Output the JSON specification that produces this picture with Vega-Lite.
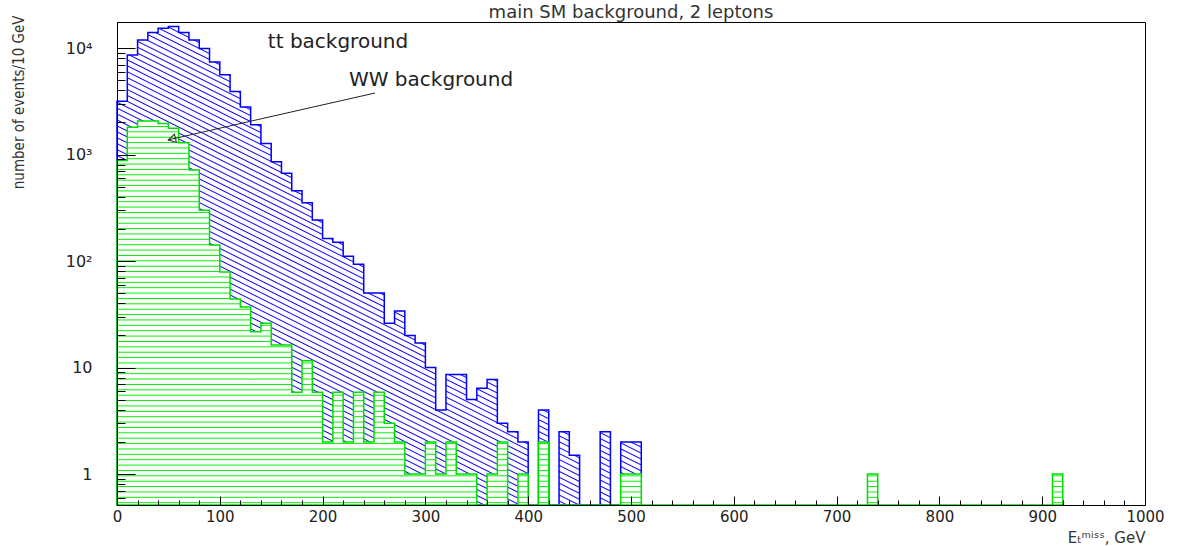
{
"$schema":"https://vega.github.io/schema/vega-lite/v6.json",
"width":1028,"height":483,
"autosize":{"type":"none"},
"padding":{"left":117,"top":22,"right":41,"bottom":41},
"background":"white",
"title":{"text":"main SM background, 2 leptons","fontSize":18,"font":"DejaVu Sans","fontWeight":"normal","color":"#333","anchor":"middle","frame":"group","offset":4,"dy":11},
"config":{"view":{"stroke":"#000","strokeWidth":1},"axis":{"domainColor":"#000","tickColor":"#000","labelFont":"DejaVu Sans","labelColor":"#222","titleFont":"DejaVu Sans","grid":false}},
"resolve":{"axis":{"x":"independent","y":"independent"}},
"datasets":{
"tt":[{"e":0,"n":3170},{"e":10,"n":8600},{"e":20,"n":11900},{"e":30,"n":14000},{"e":40,"n":15300},{"e":50,"n":15900},{"e":60,"n":14000},{"e":70,"n":11900},{"e":80,"n":9900},{"e":90,"n":7400},{"e":100,"n":5600},{"e":110,"n":3900},{"e":120,"n":2800},{"e":130,"n":1900},{"e":140,"n":1270},{"e":150,"n":857},{"e":160,"n":666},{"e":170,"n":457},{"e":180,"n":353},{"e":190,"n":243},{"e":200,"n":163},{"e":210,"n":150},{"e":220,"n":111},{"e":230,"n":93},{"e":240,"n":50},{"e":250,"n":50},{"e":260,"n":26},{"e":270,"n":34},{"e":280,"n":20},{"e":290,"n":17},{"e":300,"n":10},{"e":310,"n":4},{"e":320,"n":8.6},{"e":330,"n":8.6},{"e":340,"n":5},{"e":350,"n":6.4},{"e":360,"n":7.7},{"e":370,"n":3},{"e":380,"n":2.5},{"e":390,"n":2},{"e":400,"n":0},{"e":410,"n":4},{"e":420,"n":0},{"e":430,"n":2.5},{"e":440,"n":1.5},{"e":450,"n":0},{"e":470,"n":2.5},{"e":480,"n":0},{"e":490,"n":2},{"e":500,"n":2},{"e":510,"n":0}],
"ww":[{"e":0,"n":880},{"e":10,"n":1800},{"e":20,"n":2060},{"e":30,"n":2060},{"e":40,"n":1960},{"e":50,"n":1760},{"e":60,"n":1290},{"e":70,"n":715},{"e":80,"n":300},{"e":90,"n":141},{"e":100,"n":79},{"e":110,"n":44},{"e":120,"n":37},{"e":130,"n":21.7},{"e":140,"n":26},{"e":150,"n":16.3},{"e":160,"n":16.3},{"e":170,"n":5.85},{"e":180,"n":11.6},{"e":190,"n":5.85},{"e":200,"n":2},{"e":210,"n":5.85},{"e":220,"n":2},{"e":230,"n":5.85},{"e":240,"n":2},{"e":250,"n":5.85},{"e":260,"n":3},{"e":270,"n":2},{"e":280,"n":1},{"e":290,"n":1},{"e":300,"n":2},{"e":310,"n":1},{"e":320,"n":2},{"e":330,"n":1},{"e":340,"n":1},{"e":350,"n":0},{"e":360,"n":1},{"e":370,"n":2},{"e":380,"n":0},{"e":390,"n":1},{"e":400,"n":0},{"e":410,"n":2},{"e":420,"n":0},{"e":490,"n":1},{"e":500,"n":1},{"e":510,"n":0},{"e":730,"n":1},{"e":740,"n":0},{"e":910,"n":1},{"e":920,"n":0}],
"notes":[{"e":215,"n":11400,"label":"tt background"},{"e":305.5,"n":5000,"label":"WW background"}],
"arrow":[{"e":251,"n":3780,"e2":49.6,"n2":1370}],
"head":[{"e":53.4,"n":1395}]
},
"layer":[
{"data":{"name":"tt"},
"mark":{"type":"area","interpolate":"step-after","stroke":"#0000ff","strokeWidth":1.5,"fillOpacity":1,
"fill":{"gradient":"linear","x1":1,"y1":0,"x2":0.3477,"y2":1.1906,"stops":[{"offset":0,"color":"#fff"},
{"offset":0.0065,"color":"#fff"},{"offset":0.008,"color":"#10f"},{"offset":0.0095,"color":"#fff"},
{"offset":0.0145,"color":"#fff"},{"offset":0.016,"color":"#10f"},{"offset":0.0175,"color":"#fff"},
{"offset":0.0225,"color":"#fff"},{"offset":0.024,"color":"#10f"},{"offset":0.0255,"color":"#fff"},
{"offset":0.0305,"color":"#fff"},{"offset":0.032,"color":"#10f"},{"offset":0.0335,"color":"#fff"},
{"offset":0.0385,"color":"#fff"},{"offset":0.04,"color":"#10f"},{"offset":0.0415,"color":"#fff"},
{"offset":0.0465,"color":"#fff"},{"offset":0.048,"color":"#10f"},{"offset":0.0495,"color":"#fff"},
{"offset":0.0545,"color":"#fff"},{"offset":0.056,"color":"#10f"},{"offset":0.0575,"color":"#fff"},
{"offset":0.0625,"color":"#fff"},{"offset":0.064,"color":"#10f"},{"offset":0.0655,"color":"#fff"},
{"offset":0.0705,"color":"#fff"},{"offset":0.072,"color":"#10f"},{"offset":0.0735,"color":"#fff"},
{"offset":0.0785,"color":"#fff"},{"offset":0.08,"color":"#10f"},{"offset":0.0815,"color":"#fff"},
{"offset":0.0865,"color":"#fff"},{"offset":0.088,"color":"#10f"},{"offset":0.0895,"color":"#fff"},
{"offset":0.0945,"color":"#fff"},{"offset":0.096,"color":"#10f"},{"offset":0.0975,"color":"#fff"},
{"offset":0.1025,"color":"#fff"},{"offset":0.104,"color":"#10f"},{"offset":0.1055,"color":"#fff"},
{"offset":0.1105,"color":"#fff"},{"offset":0.112,"color":"#10f"},{"offset":0.1135,"color":"#fff"},
{"offset":0.1185,"color":"#fff"},{"offset":0.12,"color":"#10f"},{"offset":0.1215,"color":"#fff"},
{"offset":0.1265,"color":"#fff"},{"offset":0.128,"color":"#10f"},{"offset":0.1295,"color":"#fff"},
{"offset":0.1345,"color":"#fff"},{"offset":0.136,"color":"#10f"},{"offset":0.1375,"color":"#fff"},
{"offset":0.1425,"color":"#fff"},{"offset":0.144,"color":"#10f"},{"offset":0.1455,"color":"#fff"},
{"offset":0.1505,"color":"#fff"},{"offset":0.152,"color":"#10f"},{"offset":0.1535,"color":"#fff"},
{"offset":0.1585,"color":"#fff"},{"offset":0.16,"color":"#10f"},{"offset":0.1615,"color":"#fff"},
{"offset":0.1665,"color":"#fff"},{"offset":0.168,"color":"#10f"},{"offset":0.1695,"color":"#fff"},
{"offset":0.1745,"color":"#fff"},{"offset":0.176,"color":"#10f"},{"offset":0.1775,"color":"#fff"},
{"offset":0.1825,"color":"#fff"},{"offset":0.184,"color":"#10f"},{"offset":0.1855,"color":"#fff"},
{"offset":0.1905,"color":"#fff"},{"offset":0.192,"color":"#10f"},{"offset":0.1935,"color":"#fff"},
{"offset":0.1985,"color":"#fff"},{"offset":0.2,"color":"#10f"},{"offset":0.2015,"color":"#fff"},
{"offset":0.2065,"color":"#fff"},{"offset":0.208,"color":"#10f"},{"offset":0.2095,"color":"#fff"},
{"offset":0.2145,"color":"#fff"},{"offset":0.216,"color":"#10f"},{"offset":0.2175,"color":"#fff"},
{"offset":0.2225,"color":"#fff"},{"offset":0.224,"color":"#10f"},{"offset":0.2255,"color":"#fff"},
{"offset":0.2305,"color":"#fff"},{"offset":0.232,"color":"#10f"},{"offset":0.2335,"color":"#fff"},
{"offset":0.2385,"color":"#fff"},{"offset":0.24,"color":"#10f"},{"offset":0.2415,"color":"#fff"},
{"offset":0.2465,"color":"#fff"},{"offset":0.248,"color":"#10f"},{"offset":0.2495,"color":"#fff"},
{"offset":0.2545,"color":"#fff"},{"offset":0.256,"color":"#10f"},{"offset":0.2575,"color":"#fff"},
{"offset":0.2625,"color":"#fff"},{"offset":0.264,"color":"#10f"},{"offset":0.2655,"color":"#fff"},
{"offset":0.2705,"color":"#fff"},{"offset":0.272,"color":"#10f"},{"offset":0.2735,"color":"#fff"},
{"offset":0.2785,"color":"#fff"},{"offset":0.28,"color":"#10f"},{"offset":0.2815,"color":"#fff"},
{"offset":0.2865,"color":"#fff"},{"offset":0.288,"color":"#10f"},{"offset":0.2895,"color":"#fff"},
{"offset":0.2945,"color":"#fff"},{"offset":0.296,"color":"#10f"},{"offset":0.2975,"color":"#fff"},
{"offset":0.3025,"color":"#fff"},{"offset":0.304,"color":"#10f"},{"offset":0.3055,"color":"#fff"},
{"offset":0.3105,"color":"#fff"},{"offset":0.312,"color":"#10f"},{"offset":0.3135,"color":"#fff"},
{"offset":0.3185,"color":"#fff"},{"offset":0.32,"color":"#10f"},{"offset":0.3215,"color":"#fff"},
{"offset":0.3265,"color":"#fff"},{"offset":0.328,"color":"#10f"},{"offset":0.3295,"color":"#fff"},
{"offset":0.3345,"color":"#fff"},{"offset":0.336,"color":"#10f"},{"offset":0.3375,"color":"#fff"},
{"offset":0.3425,"color":"#fff"},{"offset":0.344,"color":"#10f"},{"offset":0.3455,"color":"#fff"},
{"offset":0.3505,"color":"#fff"},{"offset":0.352,"color":"#10f"},{"offset":0.3535,"color":"#fff"},
{"offset":0.3585,"color":"#fff"},{"offset":0.36,"color":"#10f"},{"offset":0.3615,"color":"#fff"},
{"offset":0.3665,"color":"#fff"},{"offset":0.368,"color":"#10f"},{"offset":0.3695,"color":"#fff"},
{"offset":0.3745,"color":"#fff"},{"offset":0.376,"color":"#10f"},{"offset":0.3775,"color":"#fff"},
{"offset":0.3825,"color":"#fff"},{"offset":0.384,"color":"#10f"},{"offset":0.3855,"color":"#fff"},
{"offset":0.3905,"color":"#fff"},{"offset":0.392,"color":"#10f"},{"offset":0.3935,"color":"#fff"},
{"offset":0.3985,"color":"#fff"},{"offset":0.4,"color":"#10f"},{"offset":0.4015,"color":"#fff"},
{"offset":0.4065,"color":"#fff"},{"offset":0.408,"color":"#10f"},{"offset":0.4095,"color":"#fff"},
{"offset":0.4145,"color":"#fff"},{"offset":0.416,"color":"#10f"},{"offset":0.4175,"color":"#fff"},
{"offset":0.4225,"color":"#fff"},{"offset":0.424,"color":"#10f"},{"offset":0.4255,"color":"#fff"},
{"offset":0.4305,"color":"#fff"},{"offset":0.432,"color":"#10f"},{"offset":0.4335,"color":"#fff"},
{"offset":0.4385,"color":"#fff"},{"offset":0.44,"color":"#10f"},{"offset":0.4415,"color":"#fff"},
{"offset":0.4465,"color":"#fff"},{"offset":0.448,"color":"#10f"},{"offset":0.4495,"color":"#fff"},
{"offset":0.4545,"color":"#fff"},{"offset":0.456,"color":"#10f"},{"offset":0.4575,"color":"#fff"},
{"offset":0.4625,"color":"#fff"},{"offset":0.464,"color":"#10f"},{"offset":0.4655,"color":"#fff"},
{"offset":0.4705,"color":"#fff"},{"offset":0.472,"color":"#10f"},{"offset":0.4735,"color":"#fff"},
{"offset":0.4785,"color":"#fff"},{"offset":0.48,"color":"#10f"},{"offset":0.4815,"color":"#fff"},
{"offset":0.4865,"color":"#fff"},{"offset":0.488,"color":"#10f"},{"offset":0.4895,"color":"#fff"},
{"offset":0.4945,"color":"#fff"},{"offset":0.496,"color":"#10f"},{"offset":0.4975,"color":"#fff"},
{"offset":0.5025,"color":"#fff"},{"offset":0.504,"color":"#10f"},{"offset":0.5055,"color":"#fff"},
{"offset":0.5105,"color":"#fff"},{"offset":0.512,"color":"#10f"},{"offset":0.5135,"color":"#fff"},
{"offset":0.5185,"color":"#fff"},{"offset":0.52,"color":"#10f"},{"offset":0.5215,"color":"#fff"},
{"offset":0.5265,"color":"#fff"},{"offset":0.528,"color":"#10f"},{"offset":0.5295,"color":"#fff"},
{"offset":0.5345,"color":"#fff"},{"offset":0.536,"color":"#10f"},{"offset":0.5375,"color":"#fff"},
{"offset":0.5425,"color":"#fff"},{"offset":0.544,"color":"#10f"},{"offset":0.5455,"color":"#fff"},
{"offset":0.5505,"color":"#fff"},{"offset":0.552,"color":"#10f"},{"offset":0.5535,"color":"#fff"},
{"offset":0.5585,"color":"#fff"},{"offset":0.56,"color":"#10f"},{"offset":0.5615,"color":"#fff"},
{"offset":0.5665,"color":"#fff"},{"offset":0.568,"color":"#10f"},{"offset":0.5695,"color":"#fff"},
{"offset":0.5745,"color":"#fff"},{"offset":0.576,"color":"#10f"},{"offset":0.5775,"color":"#fff"},
{"offset":0.5825,"color":"#fff"},{"offset":0.584,"color":"#10f"},{"offset":0.5855,"color":"#fff"},
{"offset":0.5905,"color":"#fff"},{"offset":0.592,"color":"#10f"},{"offset":0.5935,"color":"#fff"},
{"offset":0.5985,"color":"#fff"},{"offset":0.6,"color":"#10f"},{"offset":0.6015,"color":"#fff"},
{"offset":0.6065,"color":"#fff"},{"offset":0.608,"color":"#10f"},{"offset":0.6095,"color":"#fff"},
{"offset":0.6145,"color":"#fff"},{"offset":0.616,"color":"#10f"},{"offset":0.6175,"color":"#fff"},
{"offset":0.6225,"color":"#fff"},{"offset":0.624,"color":"#10f"},{"offset":0.6255,"color":"#fff"},
{"offset":0.6305,"color":"#fff"},{"offset":0.632,"color":"#10f"},{"offset":0.6335,"color":"#fff"},
{"offset":0.6385,"color":"#fff"},{"offset":0.64,"color":"#10f"},{"offset":0.6415,"color":"#fff"},
{"offset":0.6465,"color":"#fff"},{"offset":0.648,"color":"#10f"},{"offset":0.6495,"color":"#fff"},
{"offset":0.6545,"color":"#fff"},{"offset":0.656,"color":"#10f"},{"offset":0.6575,"color":"#fff"},
{"offset":0.6625,"color":"#fff"},{"offset":0.664,"color":"#10f"},{"offset":0.6655,"color":"#fff"},
{"offset":0.6705,"color":"#fff"},{"offset":0.672,"color":"#10f"},{"offset":0.6735,"color":"#fff"},
{"offset":0.6785,"color":"#fff"},{"offset":0.68,"color":"#10f"},{"offset":0.6815,"color":"#fff"},
{"offset":0.6865,"color":"#fff"},{"offset":0.688,"color":"#10f"},{"offset":0.6895,"color":"#fff"},
{"offset":0.6945,"color":"#fff"},{"offset":0.696,"color":"#10f"},{"offset":0.6975,"color":"#fff"},
{"offset":0.7025,"color":"#fff"},{"offset":0.704,"color":"#10f"},{"offset":0.7055,"color":"#fff"},
{"offset":0.7105,"color":"#fff"},{"offset":0.712,"color":"#10f"},{"offset":0.7135,"color":"#fff"},
{"offset":0.7185,"color":"#fff"},{"offset":0.72,"color":"#10f"},{"offset":0.7215,"color":"#fff"},
{"offset":0.7265,"color":"#fff"},{"offset":0.728,"color":"#10f"},{"offset":0.7295,"color":"#fff"},
{"offset":0.7345,"color":"#fff"},{"offset":0.736,"color":"#10f"},{"offset":0.7375,"color":"#fff"},
{"offset":0.7425,"color":"#fff"},{"offset":0.744,"color":"#10f"},{"offset":0.7455,"color":"#fff"},
{"offset":0.7505,"color":"#fff"},{"offset":0.752,"color":"#10f"},{"offset":0.7535,"color":"#fff"},
{"offset":0.7585,"color":"#fff"},{"offset":0.76,"color":"#10f"},{"offset":0.7615,"color":"#fff"},
{"offset":0.7665,"color":"#fff"},{"offset":0.768,"color":"#10f"},{"offset":0.7695,"color":"#fff"},
{"offset":0.7745,"color":"#fff"},{"offset":0.776,"color":"#10f"},{"offset":0.7775,"color":"#fff"},
{"offset":0.7825,"color":"#fff"},{"offset":0.784,"color":"#10f"},{"offset":0.7855,"color":"#fff"},
{"offset":0.7905,"color":"#fff"},{"offset":0.792,"color":"#10f"},{"offset":0.7935,"color":"#fff"},
{"offset":0.7985,"color":"#fff"},{"offset":0.8,"color":"#10f"},{"offset":0.8015,"color":"#fff"},
{"offset":0.8065,"color":"#fff"},{"offset":0.808,"color":"#10f"},{"offset":0.8095,"color":"#fff"},
{"offset":0.8145,"color":"#fff"},{"offset":0.816,"color":"#10f"},{"offset":0.8175,"color":"#fff"},
{"offset":0.8225,"color":"#fff"},{"offset":0.824,"color":"#10f"},{"offset":0.8255,"color":"#fff"},
{"offset":0.8305,"color":"#fff"},{"offset":0.832,"color":"#10f"},{"offset":0.8335,"color":"#fff"},
{"offset":0.8385,"color":"#fff"},{"offset":0.84,"color":"#10f"},{"offset":0.8415,"color":"#fff"},
{"offset":0.8465,"color":"#fff"},{"offset":0.848,"color":"#10f"},{"offset":0.8495,"color":"#fff"},
{"offset":0.8545,"color":"#fff"},{"offset":0.856,"color":"#10f"},{"offset":0.8575,"color":"#fff"},
{"offset":0.8625,"color":"#fff"},{"offset":0.864,"color":"#10f"},{"offset":0.8655,"color":"#fff"},
{"offset":0.8705,"color":"#fff"},{"offset":0.872,"color":"#10f"},{"offset":0.8735,"color":"#fff"},
{"offset":0.8785,"color":"#fff"},{"offset":0.88,"color":"#10f"},{"offset":0.8815,"color":"#fff"},
{"offset":0.8865,"color":"#fff"},{"offset":0.888,"color":"#10f"},{"offset":0.8895,"color":"#fff"},
{"offset":0.8945,"color":"#fff"},{"offset":0.896,"color":"#10f"},{"offset":0.8975,"color":"#fff"},
{"offset":0.9025,"color":"#fff"},{"offset":0.904,"color":"#10f"},{"offset":0.9055,"color":"#fff"},
{"offset":0.9105,"color":"#fff"},{"offset":0.912,"color":"#10f"},{"offset":0.9135,"color":"#fff"},
{"offset":0.9185,"color":"#fff"},{"offset":0.92,"color":"#10f"},{"offset":0.9215,"color":"#fff"},
{"offset":0.9265,"color":"#fff"},{"offset":0.928,"color":"#10f"},{"offset":0.9295,"color":"#fff"},
{"offset":0.9345,"color":"#fff"},{"offset":0.936,"color":"#10f"},{"offset":0.9375,"color":"#fff"},
{"offset":0.9425,"color":"#fff"},{"offset":0.944,"color":"#10f"},{"offset":0.9455,"color":"#fff"},
{"offset":0.9505,"color":"#fff"},{"offset":0.952,"color":"#10f"},{"offset":0.9535,"color":"#fff"},
{"offset":0.9585,"color":"#fff"},{"offset":0.96,"color":"#10f"},{"offset":0.9615,"color":"#fff"},
{"offset":0.9665,"color":"#fff"},{"offset":0.968,"color":"#10f"},{"offset":0.9695,"color":"#fff"},
{"offset":0.9745,"color":"#fff"},{"offset":0.976,"color":"#10f"},{"offset":0.9775,"color":"#fff"},
{"offset":0.9825,"color":"#fff"},{"offset":0.984,"color":"#10f"},{"offset":0.9855,"color":"#fff"},
{"offset":0.9905,"color":"#fff"},{"offset":0.992,"color":"#10f"},{"offset":0.9935,"color":"#fff"},
{"offset":1,"color":"#fff"}]}},
"encoding":{
"x":{"field":"e","type":"quantitative","scale":{"domain":[0,1000],"nice":false,"zero":false},
"axis":{"orient":"bottom","values":[0,100,200,300,400,500,600,700,800,900,1000],
"format":"d","tickSize":-9,"labelPadding":13,"labelFontSize":15,"labelOverlap":false,"labelFlush":false,"labelBaseline":"top",
"title":"Eₜᵐⁱˢˢ, GeV","titleFontSize":15,"titleFontWeight":"normal","titleColor":"#333","titleX":1028,"titleY":37,"titleAlign":"right","titleBaseline":"alphabetic","zindex":1}},
"y":{"field":"n","type":"quantitative","scale":{"type":"log","domain":[0.5117,17545],"nice":false,"clamp":true},
"axis":{"orient":"left","values":[1,10,100,1000,10000],
"labelExpr":"datum.value === 1 ? '1' : datum.value === 10 ? '10' : datum.value === 100 ? '10²' : datum.value === 1000 ? '10³' : '10⁴'",
"tickSize":-18,"labelPadding":43,"labelFontSize":16,"labelOverlap":false,"labelBaseline":"middle",
"title":"number of events/10 GeV","titleFont":"DejaVu Sans Condensed, Liberation Sans Narrow, DejaVu Sans","titleFontSize":15,"titleFontWeight":"normal","titleColor":"#333",
"titleAngle":-90,"titleX":-99,"titleY":-7,"titleAlign":"right","titleBaseline":"middle","zindex":1}}
}},
{"data":{"name":"ww"},
"mark":{"type":"area","interpolate":"step-after","stroke":"#00dd00","strokeWidth":1.5,"fillOpacity":1,
"fill":{"gradient":"linear","x1":0,"y1":0,"x2":0,"y2":1,"stops":[{"offset":0,"color":"#fff"},
{"offset":0.0115,"color":"#fff"},{"offset":0.014,"color":"#0e0"},{"offset":0.0165,"color":"#fff"},
{"offset":0.0255,"color":"#fff"},{"offset":0.028,"color":"#0e0"},{"offset":0.0305,"color":"#fff"},
{"offset":0.0395,"color":"#fff"},{"offset":0.042,"color":"#0e0"},{"offset":0.0445,"color":"#fff"},
{"offset":0.0535,"color":"#fff"},{"offset":0.056,"color":"#0e0"},{"offset":0.0585,"color":"#fff"},
{"offset":0.0675,"color":"#fff"},{"offset":0.07,"color":"#0e0"},{"offset":0.0725,"color":"#fff"},
{"offset":0.0815,"color":"#fff"},{"offset":0.084,"color":"#0e0"},{"offset":0.0865,"color":"#fff"},
{"offset":0.0955,"color":"#fff"},{"offset":0.098,"color":"#0e0"},{"offset":0.1005,"color":"#fff"},
{"offset":0.1095,"color":"#fff"},{"offset":0.112,"color":"#0e0"},{"offset":0.1145,"color":"#fff"},
{"offset":0.1235,"color":"#fff"},{"offset":0.126,"color":"#0e0"},{"offset":0.1285,"color":"#fff"},
{"offset":0.1375,"color":"#fff"},{"offset":0.14,"color":"#0e0"},{"offset":0.1425,"color":"#fff"},
{"offset":0.1515,"color":"#fff"},{"offset":0.154,"color":"#0e0"},{"offset":0.1565,"color":"#fff"},
{"offset":0.1655,"color":"#fff"},{"offset":0.168,"color":"#0e0"},{"offset":0.1705,"color":"#fff"},
{"offset":0.1795,"color":"#fff"},{"offset":0.182,"color":"#0e0"},{"offset":0.1845,"color":"#fff"},
{"offset":0.1935,"color":"#fff"},{"offset":0.196,"color":"#0e0"},{"offset":0.1985,"color":"#fff"},
{"offset":0.2075,"color":"#fff"},{"offset":0.21,"color":"#0e0"},{"offset":0.2125,"color":"#fff"},
{"offset":0.2215,"color":"#fff"},{"offset":0.224,"color":"#0e0"},{"offset":0.2265,"color":"#fff"},
{"offset":0.2355,"color":"#fff"},{"offset":0.238,"color":"#0e0"},{"offset":0.2405,"color":"#fff"},
{"offset":0.2495,"color":"#fff"},{"offset":0.252,"color":"#0e0"},{"offset":0.2545,"color":"#fff"},
{"offset":0.2635,"color":"#fff"},{"offset":0.266,"color":"#0e0"},{"offset":0.2685,"color":"#fff"},
{"offset":0.2775,"color":"#fff"},{"offset":0.28,"color":"#0e0"},{"offset":0.2825,"color":"#fff"},
{"offset":0.2915,"color":"#fff"},{"offset":0.294,"color":"#0e0"},{"offset":0.2965,"color":"#fff"},
{"offset":0.3055,"color":"#fff"},{"offset":0.308,"color":"#0e0"},{"offset":0.3105,"color":"#fff"},
{"offset":0.3195,"color":"#fff"},{"offset":0.322,"color":"#0e0"},{"offset":0.3245,"color":"#fff"},
{"offset":0.3335,"color":"#fff"},{"offset":0.336,"color":"#0e0"},{"offset":0.3385,"color":"#fff"},
{"offset":0.3475,"color":"#fff"},{"offset":0.35,"color":"#0e0"},{"offset":0.3525,"color":"#fff"},
{"offset":0.3615,"color":"#fff"},{"offset":0.364,"color":"#0e0"},{"offset":0.3665,"color":"#fff"},
{"offset":0.3755,"color":"#fff"},{"offset":0.378,"color":"#0e0"},{"offset":0.3805,"color":"#fff"},
{"offset":0.3895,"color":"#fff"},{"offset":0.392,"color":"#0e0"},{"offset":0.3945,"color":"#fff"},
{"offset":0.4035,"color":"#fff"},{"offset":0.406,"color":"#0e0"},{"offset":0.4085,"color":"#fff"},
{"offset":0.4175,"color":"#fff"},{"offset":0.42,"color":"#0e0"},{"offset":0.4225,"color":"#fff"},
{"offset":0.4315,"color":"#fff"},{"offset":0.434,"color":"#0e0"},{"offset":0.4365,"color":"#fff"},
{"offset":0.4455,"color":"#fff"},{"offset":0.448,"color":"#0e0"},{"offset":0.4505,"color":"#fff"},
{"offset":0.4595,"color":"#fff"},{"offset":0.462,"color":"#0e0"},{"offset":0.4645,"color":"#fff"},
{"offset":0.4735,"color":"#fff"},{"offset":0.476,"color":"#0e0"},{"offset":0.4785,"color":"#fff"},
{"offset":0.4875,"color":"#fff"},{"offset":0.49,"color":"#0e0"},{"offset":0.4925,"color":"#fff"},
{"offset":0.5015,"color":"#fff"},{"offset":0.504,"color":"#0e0"},{"offset":0.5065,"color":"#fff"},
{"offset":0.5155,"color":"#fff"},{"offset":0.518,"color":"#0e0"},{"offset":0.5205,"color":"#fff"},
{"offset":0.5295,"color":"#fff"},{"offset":0.532,"color":"#0e0"},{"offset":0.5345,"color":"#fff"},
{"offset":0.5435,"color":"#fff"},{"offset":0.546,"color":"#0e0"},{"offset":0.5485,"color":"#fff"},
{"offset":0.5575,"color":"#fff"},{"offset":0.56,"color":"#0e0"},{"offset":0.5625,"color":"#fff"},
{"offset":0.5715,"color":"#fff"},{"offset":0.574,"color":"#0e0"},{"offset":0.5765,"color":"#fff"},
{"offset":0.5855,"color":"#fff"},{"offset":0.588,"color":"#0e0"},{"offset":0.5905,"color":"#fff"},
{"offset":0.5995,"color":"#fff"},{"offset":0.602,"color":"#0e0"},{"offset":0.6045,"color":"#fff"},
{"offset":0.6135,"color":"#fff"},{"offset":0.616,"color":"#0e0"},{"offset":0.6185,"color":"#fff"},
{"offset":0.6275,"color":"#fff"},{"offset":0.63,"color":"#0e0"},{"offset":0.6325,"color":"#fff"},
{"offset":0.6415,"color":"#fff"},{"offset":0.644,"color":"#0e0"},{"offset":0.6465,"color":"#fff"},
{"offset":0.6555,"color":"#fff"},{"offset":0.658,"color":"#0e0"},{"offset":0.6605,"color":"#fff"},
{"offset":0.6695,"color":"#fff"},{"offset":0.672,"color":"#0e0"},{"offset":0.6745,"color":"#fff"},
{"offset":0.6835,"color":"#fff"},{"offset":0.686,"color":"#0e0"},{"offset":0.6885,"color":"#fff"},
{"offset":0.6975,"color":"#fff"},{"offset":0.7,"color":"#0e0"},{"offset":0.7025,"color":"#fff"},
{"offset":0.7115,"color":"#fff"},{"offset":0.714,"color":"#0e0"},{"offset":0.7165,"color":"#fff"},
{"offset":0.7255,"color":"#fff"},{"offset":0.728,"color":"#0e0"},{"offset":0.7305,"color":"#fff"},
{"offset":0.7395,"color":"#fff"},{"offset":0.742,"color":"#0e0"},{"offset":0.7445,"color":"#fff"},
{"offset":0.7535,"color":"#fff"},{"offset":0.756,"color":"#0e0"},{"offset":0.7585,"color":"#fff"},
{"offset":0.7675,"color":"#fff"},{"offset":0.77,"color":"#0e0"},{"offset":0.7725,"color":"#fff"},
{"offset":0.7815,"color":"#fff"},{"offset":0.784,"color":"#0e0"},{"offset":0.7865,"color":"#fff"},
{"offset":0.7955,"color":"#fff"},{"offset":0.798,"color":"#0e0"},{"offset":0.8005,"color":"#fff"},
{"offset":0.8095,"color":"#fff"},{"offset":0.812,"color":"#0e0"},{"offset":0.8145,"color":"#fff"},
{"offset":0.8235,"color":"#fff"},{"offset":0.826,"color":"#0e0"},{"offset":0.8285,"color":"#fff"},
{"offset":0.8375,"color":"#fff"},{"offset":0.84,"color":"#0e0"},{"offset":0.8425,"color":"#fff"},
{"offset":0.8515,"color":"#fff"},{"offset":0.854,"color":"#0e0"},{"offset":0.8565,"color":"#fff"},
{"offset":0.8655,"color":"#fff"},{"offset":0.868,"color":"#0e0"},{"offset":0.8705,"color":"#fff"},
{"offset":0.8795,"color":"#fff"},{"offset":0.882,"color":"#0e0"},{"offset":0.8845,"color":"#fff"},
{"offset":0.8935,"color":"#fff"},{"offset":0.896,"color":"#0e0"},{"offset":0.8985,"color":"#fff"},
{"offset":0.9075,"color":"#fff"},{"offset":0.91,"color":"#0e0"},{"offset":0.9125,"color":"#fff"},
{"offset":0.9215,"color":"#fff"},{"offset":0.924,"color":"#0e0"},{"offset":0.9265,"color":"#fff"},
{"offset":0.9355,"color":"#fff"},{"offset":0.938,"color":"#0e0"},{"offset":0.9405,"color":"#fff"},
{"offset":0.9495,"color":"#fff"},{"offset":0.952,"color":"#0e0"},{"offset":0.9545,"color":"#fff"},
{"offset":0.9635,"color":"#fff"},{"offset":0.966,"color":"#0e0"},{"offset":0.9685,"color":"#fff"},
{"offset":0.9775,"color":"#fff"},{"offset":0.98,"color":"#0e0"},{"offset":0.9825,"color":"#fff"},
{"offset":0.9915,"color":"#fff"},{"offset":0.994,"color":"#0e0"},{"offset":0.9965,"color":"#fff"},
{"offset":1,"color":"#fff"}]}},
"encoding":{
"x":{"field":"e","type":"quantitative","axis":{"orient":"bottom","values":[20,40,60,80,120,140,160,180,220,240,260,280,320,340,360,380,420,440,460,480,520,540,560,580,620,640,660,680,720,740,760,780,820,840,860,880,920,940,960,980],"tickSize":-5,"labels":false,"title":null,"domain":false,"zindex":1}},
"y":{"field":"n","type":"quantitative","axis":{"orient":"left","values":[0.6,0.7,0.8,0.9,2,3,4,5,6,7,8,9,20,30,40,50,60,70,80,90,200,300,400,500,600,700,800,900,2000,3000,4000,5000,6000,7000,8000,9000],"tickSize":-8,"labels":false,"title":null,"domain":false,"zindex":1}}
}},
{"data":{"name":"notes"},
"mark":{"type":"text","font":"DejaVu Sans","fontSize":20,"color":"#222","align":"center","baseline":"middle"},
"encoding":{"x":{"field":"e","type":"quantitative","axis":null},"y":{"field":"n","type":"quantitative","axis":null},"text":{"field":"label"}}},
{"data":{"name":"arrow"},
"mark":{"type":"rule","color":"#222","strokeWidth":1},
"encoding":{"x":{"field":"e","type":"quantitative","axis":null},"y":{"field":"n","type":"quantitative","axis":null},"x2":{"field":"e2"},"y2":{"field":"n2"}}},
{"data":{"name":"head"},
"mark":{"type":"point","shape":"triangle-left","size":70,"angle":-13,"filled":false,"color":"#222","strokeWidth":1,"opacity":1},
"encoding":{"x":{"field":"e","type":"quantitative","axis":null},"y":{"field":"n","type":"quantitative","axis":null}}}
]
}
